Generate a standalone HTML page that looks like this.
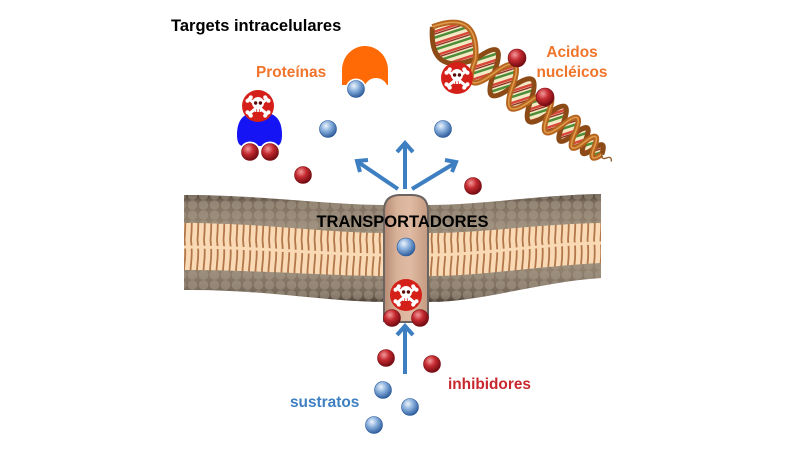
<!DOCTYPE html>
<html><head><meta charset="utf-8"><style>
html,body{margin:0;padding:0;background:#fff;}
svg{display:block;}
text{font-family:"Liberation Sans",Arial,sans-serif;font-weight:bold;}
</style></head><body>
<svg width="800" height="450" viewBox="0 0 800 450" xmlns="http://www.w3.org/2000/svg">
<defs>
  <radialGradient id="gb" cx="38%" cy="32%" r="70%">
    <stop offset="0" stop-color="#eef4fb"/>
    <stop offset="0.45" stop-color="#88afdc"/>
    <stop offset="1" stop-color="#2c5b9b"/>
  </radialGradient>
  <radialGradient id="gr" cx="38%" cy="32%" r="70%">
    <stop offset="0" stop-color="#f29a9a"/>
    <stop offset="0.45" stop-color="#c42a30"/>
    <stop offset="1" stop-color="#6e0a10"/>
  </radialGradient>
  <linearGradient id="mem" x1="0" y1="0" x2="0" y2="1">
    <stop offset="0" stop-color="#4e4238"/>
    <stop offset="0.08" stop-color="#7e6f5f"/>
    <stop offset="0.3" stop-color="#948572"/>
    <stop offset="0.7" stop-color="#918270"/>
    <stop offset="0.92" stop-color="#76685a"/>
    <stop offset="1" stop-color="#4e4238"/>
  </linearGradient>
  <pattern id="heads" width="11" height="10" patternUnits="userSpaceOnUse">
    <circle cx="5.5" cy="5" r="4.8" fill="#b0a290" opacity="0.45"/>
  </pattern>
  <pattern id="tails" width="6.5" height="80" patternUnits="userSpaceOnUse">
    <rect width="6.5" height="80" fill="#f9dab5"/>
    <path d="M2.5,0 Q4,12 2.5,24 Q1.2,36 2.8,48 Q4,62 2.5,80" stroke="#b2764a" stroke-width="1.8" fill="none"/>
  </pattern>
  <linearGradient id="tr" x1="0" y1="0" x2="1" y2="0">
    <stop offset="0" stop-color="#b68a73"/>
    <stop offset="0.3" stop-color="#d9b29a"/>
    <stop offset="0.6" stop-color="#e0baa2"/>
    <stop offset="1" stop-color="#c39a82"/>
  </linearGradient>
  <pattern id="bp" width="14" height="14" patternUnits="userSpaceOnUse" patternTransform="skewX(-35)">
    <rect width="14" height="14" fill="#f3e9c4"/>
    <rect x="0" y="0" width="3" height="14" fill="#4e8d38"/>
    <rect x="7" y="0" width="3" height="14" fill="#d8473a"/>
    <rect x="10.5" y="0" width="1.6" height="14" fill="#8a2a20"/>
  </pattern>
  <g id="skull">
    <circle r="16" fill="#d42019"/>
    <g stroke="#fff" stroke-width="3" stroke-linecap="round">
      <line x1="-9" y1="-7" x2="9" y2="8"/>
      <line x1="-9" y1="8" x2="9" y2="-7"/>
    </g>
    <g fill="#fff">
      <circle cx="-10.5" cy="-5.2" r="2"/><circle cx="-7.2" cy="-8.6" r="2"/>
      <circle cx="10.5" cy="-5.2" r="2"/><circle cx="7.2" cy="-8.6" r="2"/>
      <circle cx="-10.5" cy="6.2" r="2"/><circle cx="-7.2" cy="9.6" r="2"/>
      <circle cx="10.5" cy="6.2" r="2"/><circle cx="7.2" cy="9.6" r="2"/>
      <circle cx="0" cy="-3" r="6"/>
      <rect x="-3.6" y="0.8" width="7.2" height="5.2" rx="1.2"/>
    </g>
    <circle cx="-2.4" cy="-3" r="1.7" fill="#5a0a08"/>
    <circle cx="2.4" cy="-3" r="1.7" fill="#5a0a08"/>
    <path d="M-1.3,3.2 v2.8 M1.3,3.2 v2.8" stroke="#d42019" stroke-width="0.8"/>
  </g>
</defs>

<!-- Title -->
<text x="171" y="31" font-size="16.5" fill="#000">Targets intracelulares</text>
<text x="256" y="77" font-size="15.4" fill="#f0742a">Proteínas</text>
<text x="572" y="57" font-size="15.4" fill="#f0742a" text-anchor="middle">Acidos</text>
<text x="572" y="77" font-size="15.4" fill="#f0742a" text-anchor="middle">nucléicos</text>

<!-- DNA -->
<g transform="translate(442,34) rotate(37)">
  <path d="M-12,0 Q15,-42 42,0 Q53.5,40 65,0 Q76.5,-38 88,0 Q99.5,36 111,0 Q122,-35 133,0 Q142,32 151,0 Q158.5,-29 166,0 Q172.5,25 179,0 Q184.5,-21 190,0 Q195,16 200,0 Q195,-16 190,0 Q184.5,21 179,0 Q172.5,-25 166,0 Q158.5,29 151,0 Q142,-32 133,0 Q122,35 111,0 Q99.5,-36 88,0 Q76.5,38 65,0 Q53.5,-40 42,0 Q15,42 -12,0 Z" fill="url(#bp)"/>
  <path d="M-12,0 Q15,42 42,0 Q53.5,-40 65,0 Q76.5,38 88,0 Q99.5,-36 111,0 Q122,35 133,0 Q142,-32 151,0 Q158.5,29 166,0 Q172.5,-25 179,0 Q184.5,21 190,0 Q195,-16 200,0" fill="none" stroke="#8c4a16" stroke-width="5"/>
  <path d="M-12,0 Q15,-42 42,0 Q53.5,40 65,0 Q76.5,-38 88,0 Q99.5,36 111,0 Q122,-35 133,0 Q142,32 151,0 Q158.5,-29 166,0 Q172.5,25 179,0 Q184.5,-21 190,0 Q195,16 200,0" fill="none" stroke="#b5641e" stroke-width="5.5"/>
  <path d="M-12,0 Q15,-42 42,0 Q53.5,40 65,0 Q76.5,-38 88,0 Q99.5,36 111,0 Q122,-35 133,0 Q142,32 151,0 Q158.5,-29 166,0 Q172.5,25 179,0 Q184.5,-21 190,0 Q195,16 200,0" fill="none" stroke="#e09a4c" stroke-width="1.6"/>
  <path d="M200,0 Q203,5 206,0 Q209,-5 212,0" fill="none" stroke="#8c5a28" stroke-width="1.3"/>
</g>
<use href="#skull" x="457" y="78"/>
<circle cx="517" cy="58" r="9" fill="url(#gr)" stroke="#7a1015" stroke-width="0.6"/>
<circle cx="545" cy="97" r="9" fill="url(#gr)" stroke="#7a1015" stroke-width="0.6"/>

<!-- Orange protein -->
<path d="M342,85 L342,70 A23,24 0 0 1 388,70 L388,85 Z" fill="#ff6a06"/>
<circle cx="376" cy="90" r="12" fill="#fff"/>
<rect x="338" y="85" width="55" height="10" fill="#fff"/>
<circle cx="356" cy="89" r="10.5" fill="#fff"/>
<circle cx="356" cy="89" r="8.5" fill="url(#gb)" stroke="#2c5b9b" stroke-width="0.6"/>

<!-- Blue protein -->
<path d="M237,135 C237,117 246,112 259.5,112 C273,112 282,117 282,135 C282,142 280,146 276,146 L243,146 C239,146 237,142 237,135 Z" fill="#1414f5"/>
<circle cx="250" cy="152" r="10.5" fill="#fff"/>
<circle cx="270" cy="152" r="10.5" fill="#fff"/>
<circle cx="250" cy="152" r="8.5" fill="url(#gr)" stroke="#7a1015" stroke-width="0.6"/>
<circle cx="270" cy="152" r="8.5" fill="url(#gr)" stroke="#7a1015" stroke-width="0.6"/>
<use href="#skull" x="258" y="106"/>

<!-- Free balls top -->
<circle cx="328" cy="129" r="8.5" fill="url(#gb)" stroke="#2c5b9b" stroke-width="0.6"/>
<circle cx="443" cy="129" r="8.5" fill="url(#gb)" stroke="#2c5b9b" stroke-width="0.6"/>
<circle cx="303" cy="175" r="8.5" fill="url(#gr)" stroke="#7a1015" stroke-width="0.6"/>
<circle cx="473" cy="186" r="8.5" fill="url(#gr)" stroke="#7a1015" stroke-width="0.6"/>

<!-- Top arrows -->
<g stroke="#3d7fc1" stroke-width="4" fill="none" stroke-linecap="butt" stroke-linejoin="miter">
  <line x1="405" y1="189" x2="405" y2="144"/>
  <polyline points="397,152 405,143 413,152"/>
  <line x1="398" y1="189" x2="358" y2="162"/>
  <polyline points="360,172 357,161 368,160"/>
  <line x1="412" y1="189" x2="455" y2="163"/>
  <polyline points="445,160 456,162 452,172"/>
</g>

<!-- Membrane -->
<path d="M184,195 C260,195 330,205 384,205 L430,205 C480,205 540,195 601,194 L601,278 C540,282 480,302 430,302 L384,302 C330,302 260,289 184,290 Z" fill="url(#mem)"/>
<path d="M184,195 C260,195 330,205 384,205 L430,205 C480,205 540,195 601,194 L601,278 C540,282 480,302 430,302 L384,302 C330,302 260,289 184,290 Z" fill="url(#heads)"/>
<path d="M184,223 C260,223 330,233 384,233 L430,233 C480,233 540,224 601,223 L601,263 C540,266 480,276 430,276 L384,276 C330,276 260,270 184,270 Z" fill="url(#tails)"/>
<path d="M184,247 C260,247 330,255 384,255 L430,255 C480,255 540,244 601,243" fill="none" stroke="#f9dab5" stroke-width="3"/>

<!-- Transporter -->
<path d="M384,322 L384,211 Q384,195 400,195 L412,195 Q428,195 428,211 L428,316 Q428,322 422,322 L390,322 Q384,322 384,316 Z" fill="url(#tr)" stroke="#6c6460" stroke-width="2"/>
<text x="402.5" y="227" font-size="16.5" fill="#000" text-anchor="middle">TRANSPORTADORES</text>
<circle cx="406" cy="247" r="9" fill="url(#gb)" stroke="#2c5b9b" stroke-width="0.6"/>
<use href="#skull" x="406" y="295"/>
<circle cx="392" cy="318" r="8.5" fill="url(#gr)" stroke="#7a1015" stroke-width="0.6"/>
<circle cx="420" cy="318" r="8.5" fill="url(#gr)" stroke="#7a1015" stroke-width="0.6"/>

<!-- Bottom arrow -->
<g stroke="#3d7fc1" stroke-width="4" fill="none">
  <line x1="405" y1="374" x2="405" y2="327"/>
  <polyline points="397,335 405,326 413,335"/>
</g>

<!-- Bottom balls -->
<circle cx="386" cy="358" r="8.5" fill="url(#gr)" stroke="#7a1015" stroke-width="0.6"/>
<circle cx="432" cy="364" r="8.5" fill="url(#gr)" stroke="#7a1015" stroke-width="0.6"/>
<circle cx="383" cy="390" r="8.5" fill="url(#gb)" stroke="#2c5b9b" stroke-width="0.6"/>
<circle cx="410" cy="407" r="8.5" fill="url(#gb)" stroke="#2c5b9b" stroke-width="0.6"/>
<circle cx="374" cy="425" r="8.5" fill="url(#gb)" stroke="#2c5b9b" stroke-width="0.6"/>

<text x="290" y="407" font-size="15.4" fill="#3d7fc1">sustratos</text>
<text x="448" y="389" font-size="15.4" fill="#c8282d">inhibidores</text>
</svg>
</body></html>
